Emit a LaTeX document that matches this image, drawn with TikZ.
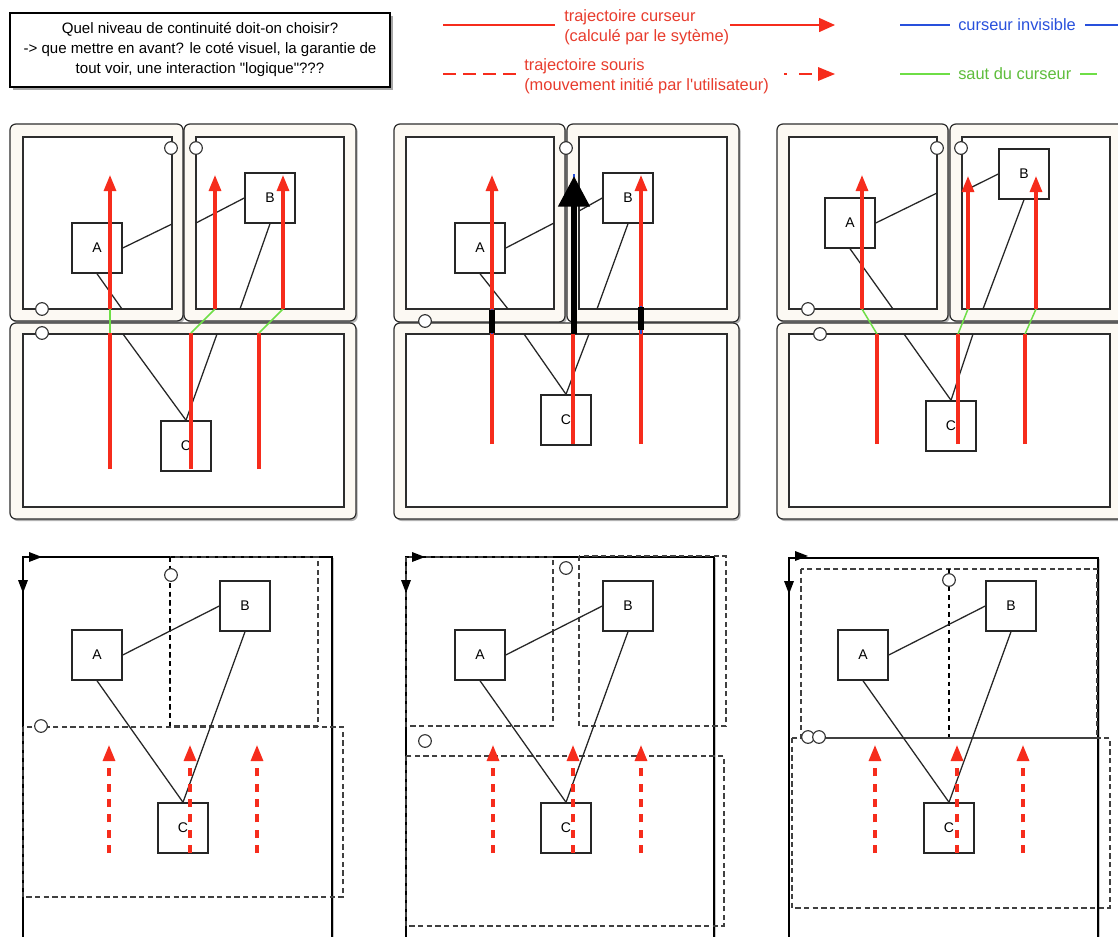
\documentclass[tikz,border=0pt]{standalone}
\usepackage{fontspec}
\setmainfont{Liberation Sans}[Ligatures=TeXOff]
\usetikzlibrary{arrows.meta}

\definecolor{cream}{RGB}{252,249,243}
\definecolor{edge}{RGB}{45,45,45}
\definecolor{traj}{RGB}{246,44,28}
\definecolor{trajtext}{RGB}{232,60,45}
\definecolor{jump}{RGB}{110,222,70}
\definecolor{hidden}{RGB}{40,80,220}

\tikzset{
  frame/.style={rounded corners=4.5pt, fill=cream, draw=edge, line width=0.9pt,
    preaction={draw=none, fill=black!30, transform canvas={xshift=1.3pt, yshift=-1.5pt}}},
  screen/.style={fill=white, draw=edge, line width=1.1pt},
  obj/.style={draw=black!85, fill=white, line width=1.1pt, minimum size=37.5pt, inner sep=0pt,
    font=\fontsize{10.5}{12}\selectfont},
  knob/.style={circle, draw=black!80, fill=white, line width=0.85pt, minimum size=9.5pt, inner sep=0pt},
  link/.style={draw=black!85, line width=0.95pt},
  cursorline/.style={draw=traj, line width=2.3pt},
  cursor/.style={cursorline, -{Triangle[width=9pt,length=12pt]}},
  mouse/.style={cursor, dash pattern=on 6pt off 5.5pt},
  jumpline/.style={draw=jump, line width=1.1pt},
  hiddenline/.style={draw=hidden, line width=2.2pt},
  bar/.style={draw=black, line width=3.8pt},
  desk/.style={draw=black, line width=1.2pt, fill=white,
    preaction={draw=none, fill=black!22, transform canvas={xshift=1.8pt, yshift=-0.8pt}}},
  virt/.style={draw=black!75, line width=0.85pt, dash pattern=on 4pt off 2.5pt},
  virtsplit/.style={draw=black, line width=1.6pt, dash pattern=on 3.5pt off 3pt},
  legline/.style={line width=1.1pt},
  legtext/.style={anchor=west, align=left, inner sep=0pt, font=\fontsize{12.3}{15}\selectfont},
}

\begin{document}
\begin{tikzpicture}[x=0.75pt, y=-0.75pt, font=\fontsize{10}{15}\selectfont]
\clip (0,0) rectangle (1118,936);
\fill[white] (0,0) rectangle (1118,936);

% ---------- question box ----------
\node[draw=black, fill=white, line width=1pt, minimum width=285pt, minimum height=55.5pt,
      align=center, inner sep=0pt, font=\fontsize{11.3}{15}\selectfont,
      preaction={draw=none, fill=black!35, transform canvas={xshift=2pt, yshift=-2pt}}]
  (question) at (200,50)
  {Quel niveau de continuité doit-on choisir?\\
   -> que mettre en avant? le coté visuel, la garantie de\\
   tout voir, une interaction "logique"???};

% ---------- legend ----------
\draw[traj, legline] (443,25) -- (555,25);
\node[legtext, text=trajtext] (lsys) at (564,27) {trajectoire curseur\\(calculé par le sytème)};
\draw[traj, legline, -{Triangle[width=10.5pt,length=12pt]}] (730,25) -- (835,25);

\draw[traj, legline, dash pattern=on 9.75pt off 5.25pt] (443,74) -- (516,74);
\node[legtext, text=trajtext] (lusr) at (524,76) {trajectoire souris\\(mouvement initié par l'utilisateur)};
\draw[traj, legline] (784,74) -- (787,74) (799,74) -- (812,74);
\fill[traj] (818,67) -- (835,74) -- (818,81) -- cycle;

\draw[hidden, legline] (900,25) -- (950,25) (1085,25) -- (1118,25);
\node[legtext, text=hidden] (linv) at (958,25) {curseur invisible};
\draw[jump, legline] (900,74) -- (950,74) (1080,74) -- (1097,74);
\node[legtext, text=jump!85!black] (ljmp) at (958,74) {saut du curseur};

% ---------- panel 1 : jumping cursor, bezels collapsed ----------
\draw[frame] (10,124) rectangle (183,321);
\draw[frame] (184,124) rectangle (356,321);
\draw[frame] (10,323) rectangle (356,519);
\draw[screen] (23,137) rectangle (172,309);
\draw[screen] (196,137) rectangle (344,309);
\draw[screen] (23,334) rectangle (344,507);
\node[obj] (a1) at (97,248) {A};
\node[obj] (b1) at (270,198) {B};
\node[obj] (c1) at (186,446) {C};
\draw[link] (a1.east) -- (172,224) (196,223) -- (b1.west);
\draw[link] (a1.south) -- (122,309) (123,334) -- (c1.north);
\draw[link] (b1.south) -- (240,309) (217,334) -- (c1.north);
\node[knob] (k1a) at (171,148) {};
\node[knob] (k1b) at (196,148) {};
\node[knob] (k1c) at (42,309) {};
\node[knob] (k1d) at (42,333) {};
\draw[cursorline] (110,469) -- (110,333);
\draw[jumpline] (110,333) -- (110,309);
\draw[cursor] (110,309) -- (110,175);
\draw[cursorline] (191,469) -- (191,333);
\draw[jumpline] (191,333) -- (215,309);
\draw[cursor] (215,309) -- (215,175);
\draw[cursorline] (259,469) -- (259,333);
\draw[jumpline] (259,333) -- (283,309);
\draw[cursor] (283,309) -- (283,175);

% ---------- panel 2 : invisible cursor behind the bezels ----------
\draw[frame] (394,124) rectangle (565,322);
\draw[frame] (567,124) rectangle (739,322);
\draw[frame] (394,323) rectangle (739,519);
\draw[screen] (406,137) rectangle (554,309);
\draw[screen] (579,137) rectangle (727,309);
\draw[screen] (406,334) rectangle (727,507);
\node[obj] (a2) at (480,248) {A};
\node[obj] (b2) at (628,198) {B};
\node[obj] (c2) at (566,420) {C};
\draw[link] (a2.east) -- (554,223) (579,211) -- (b2.west);
\draw[link] (a2.south) -- (508,309) (524,334) -- (c2.north);
\draw[link] (b2.south) -- (597,309) (589,334) -- (c2.north);
\node[knob] (k2a) at (566,148) {};
\node[knob] (k2b) at (425,321) {};
\draw[cursor] (492,444) -- (492,175);
\draw[hiddenline] (492,309) -- (492,334);
\draw[bar] (492,310) -- (492,333);
\draw[cursor] (641,444) -- (641,175);
\draw[hiddenline] (641,306) -- (641,334);
\draw[bar] (641,307) -- (641,330);
\draw[cursorline] (573,444) -- (573,334);
\draw[draw=hidden, line width=1.5pt] (574,334) -- (574,174);
\draw[draw=black, line width=4.5pt, -{Triangle[width=23pt,length=23pt]}] (574,334) -- (574,176);

% ---------- panel 3 : jumping cursor, shifted bottom screen ----------
\draw[frame] (777,124) rectangle (948,321);
\draw[frame] (950,124) rectangle (1124,321);
\draw[frame] (777,323) rectangle (1124,519);
\draw[screen] (789,137) rectangle (937,309);
\draw[screen] (962,137) rectangle (1110,309);
\draw[screen] (789,334) rectangle (1110,507);
\node[obj] (a3) at (850,223) {A};
\node[obj] (b3) at (1024,174) {B};
\node[obj] (c3) at (951,426) {C};
\draw[link] (a3.east) -- (937,193) (962,192) -- (b3.west);
\draw[link] (a3.south) -- (893,309) (904,334) -- (c3.north);
\draw[link] (b3.south) -- (983,309) (973,334) -- (c3.north);
\node[knob] (k3a) at (937,148) {};
\node[knob] (k3b) at (961,148) {};
\node[knob] (k3c) at (808,309) {};
\node[knob] (k3d) at (820,334) {};
\draw[cursorline] (877,444) -- (877,334);
\draw[jumpline] (877,334) -- (862,309);
\draw[cursor] (862,309) -- (862,175);
\draw[cursorline] (958,444) -- (958,334);
\draw[jumpline] (958,334) -- (968,309);
\draw[cursor] (968,309) -- (968,176);
\draw[cursorline] (1025,444) -- (1025,334);
\draw[jumpline] (1025,334) -- (1036,309);
\draw[cursor] (1036,309) -- (1036,176);

% ---------- panel 4 : virtual space, bezels ignored ----------
\draw[desk] (23,557) rectangle (332,950);
\draw[virt] (170,557) rectangle (318,726);
\draw[virtsplit] (170,557) -- (170,726);
\draw[virt] (23,727) rectangle (343,897);
\fill (29,552) -- (42,557) -- (29,562) -- cycle;
\fill (18,580) -- (23,593) -- (28,580) -- cycle;
\node[obj] (a4) at (97,655) {A};
\node[obj] (b4) at (245,606) {B};
\node[obj] (c4) at (183,828) {C};
\draw[link] (a4.east) -- (b4.west);
\draw[link] (a4.south) -- (c4.north);
\draw[link] (b4.south) -- (c4.north);
\node[knob] (k4a) at (171,575) {};
\node[knob] (k4b) at (41,726) {};
\draw[mouse] (109,853) -- (109,745);
\draw[mouse] (190,853) -- (190,745);
\draw[mouse] (257,853) -- (257,745);

% ---------- panel 5 : virtual space, bezels kept ----------
\draw[desk] (406,557) rectangle (714,950);
\draw[virt] (406,557) rectangle (553,726);
\draw[virt] (579,556) rectangle (726,726);
\draw[virt] (406,756) rectangle (724,926);
\fill (412,552) -- (425,557) -- (412,562) -- cycle;
\fill (401,580) -- (406,593) -- (411,580) -- cycle;
\node[obj] (a5) at (480,655) {A};
\node[obj] (b5) at (628,606) {B};
\node[obj] (c5) at (566,828) {C};
\draw[link] (a5.east) -- (b5.west);
\draw[link] (a5.south) -- (c5.north);
\draw[link] (b5.south) -- (c5.north);
\node[knob] (k5a) at (566,568) {};
\node[knob] (k5b) at (425,741) {};
\draw[mouse] (493,853) -- (493,745);
\draw[mouse] (573,853) -- (573,745);
\draw[mouse] (641,853) -- (641,745);

% ---------- panel 6 : virtual space, shifted screens ----------
\draw[desk] (789,558) rectangle (1098,950);
\draw[virt] (801,569) rectangle (1097,738);
\draw[virtsplit] (949,569) -- (949,738);
\draw[virt] (792,738) rectangle (1110,908);
\fill (795,551) -- (808,556) -- (795,561) -- cycle;
\fill (784,581) -- (789,594) -- (794,581) -- cycle;
\node[obj] (a6) at (863,655) {A};
\node[obj] (b6) at (1011,606) {B};
\node[obj] (c6) at (949,828) {C};
\draw[link] (a6.east) -- (b6.west);
\draw[link] (a6.south) -- (c6.north);
\draw[link] (b6.south) -- (c6.north);
\node[knob] (k6a) at (949,580) {};
\node[knob] (k6b) at (808,737) {};
\node[knob] (k6c) at (819,737) {};
\draw[mouse] (875,853) -- (875,745);
\draw[mouse] (957,853) -- (957,745);
\draw[mouse] (1023,853) -- (1023,745);
\end{tikzpicture}
\end{document}
